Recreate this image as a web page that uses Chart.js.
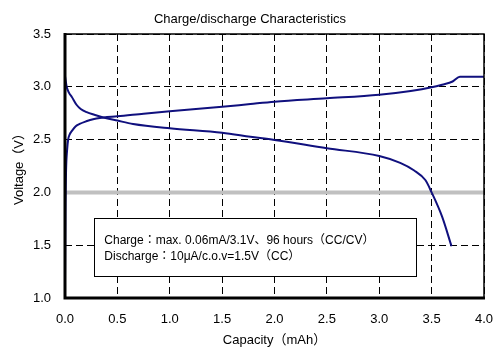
<!DOCTYPE html>
<html>
<head>
<meta charset="utf-8">
<script src="https://cdn.jsdelivr.net/npm/chart.js@4/dist/chart.umd.min.js"></script>
<style>
html,body{margin:0;padding:0;background:#fff;}
#wrap{width:500px;height:360px;position:relative;}
</style>
</head>
<body>
<div id="wrap"><canvas id="c" width="500" height="360"></canvas></div>
<script>
const chartTitle = "Charge/discharge Characteristics";
const xTitle = "Capacity（mAh）";
const yTitle = "Voltage（V）";
const noteLines = ["Charge：max. 0.06mA/3.1V、96 hours（CC/CV）", "Discharge：10μA/c.o.v=1.5V（CC）"];

const chargeCap = [0, 0.004, 0.01, 0.02, 0.03, 0.045, 0.064, 0.1, 0.14, 0.2, 0.24, 0.3, 0.37, 0.5, 0.75, 1.0, 1.5, 1.77, 2.0, 2.5, 3.0, 3.3, 3.5, 3.6, 3.7, 3.77, 4.0];
const chargeV   = [1.17, 1.8, 2.2, 2.4, 2.5, 2.55, 2.58, 2.625, 2.648, 2.672, 2.686, 2.70, 2.71, 2.72, 2.745, 2.768, 2.81, 2.837, 2.859, 2.891, 2.925, 2.96, 2.995, 3.02, 3.05, 3.096, 3.096];

const dischargeCap = [0, 0.016, 0.04, 0.064, 0.11, 0.15, 0.207, 0.28, 0.366, 0.5, 0.65, 1.0, 1.5, 1.77, 2.0, 2.5, 3.0, 3.2, 3.33, 3.44, 3.5, 3.6, 3.69];
const dischargeV   = [3.10, 3.0, 2.94, 2.906, 2.83, 2.79, 2.76, 2.735, 2.71, 2.68, 2.648, 2.607, 2.565, 2.527, 2.496, 2.418, 2.345, 2.28, 2.21, 2.117, 2.0, 1.77, 1.49];

const cutoffCap = [0, 4.0];
const cutoffV = [2.0, 2.0];

const FONT = "'Liberation Sans', Arial, 'Noto Sans CJK JP', sans-serif";

function pts(xs, ys){ return xs.map((x,i)=>({x:x, y:ys[i]})); }

const framePlugin = {
  id: 'frame',
  beforeDatasetsDraw(chart){
    const {ctx, scales} = chart;
    const x0 = scales.x.getPixelForValue(0.28), x1 = scales.x.getPixelForValue(3.35);
    const y0 = scales.y.getPixelForValue(1.76), y1 = scales.y.getPixelForValue(1.21);
    ctx.save();
    ctx.fillStyle = '#fff';
    ctx.fillRect(x0, y0, x1-x0, y1-y0);
    ctx.strokeStyle = '#000';
    ctx.lineWidth = 1;
    ctx.strokeRect(Math.round(x0)+0.5, Math.round(y0)+0.5, Math.round(x1-x0), Math.round(y1-y0));
    ctx.fillStyle = '#000';
    ctx.font = "12px " + FONT;
    ctx.textBaseline = 'alphabetic';
    ctx.fillText(noteLines[0], x0+10, y0+26);
    ctx.fillText(noteLines[1], x0+10, y0+42);
    ctx.restore();
  },
  afterDatasetsDraw(chart){
    const {ctx, chartArea:a} = chart;
    ctx.save();
    ctx.strokeStyle = '#000';
    ctx.lineWidth = 1.5;
    ctx.beginPath();
    ctx.moveTo(a.left, a.top);
    ctx.lineTo(a.right, a.top);
    ctx.lineTo(a.right, a.bottom);
    ctx.stroke();
    ctx.lineWidth = 3;
    ctx.beginPath();
    ctx.moveTo(a.left, a.top-1);
    ctx.lineTo(a.left, a.bottom);
    ctx.lineTo(a.right+1, a.bottom);
    ctx.stroke();
    ctx.restore();
  }
};

new Chart(document.getElementById('c'), {
  type: 'line',
  data: {
    datasets: [
      {label:'Charge', data: pts(chargeCap, chargeV), borderColor:'#10107e', borderWidth:2, pointRadius:0, cubicInterpolationMode:'monotone', fill:false},
      {label:'Discharge', data: pts(dischargeCap, dischargeV), borderColor:'#10107e', borderWidth:2, pointRadius:0, cubicInterpolationMode:'monotone', fill:false},
      {label:'Cut-off', data: pts(cutoffCap, cutoffV), borderColor:'#c0c0c0', borderWidth:4, pointRadius:0, fill:false}
    ]
  },
  options: {
    responsive:false,
    animation:false,
    layout:{padding:{left:0, right:0, top:0, bottom:0}},
    plugins:{
      legend:{display:false},
      tooltip:{enabled:false},
      title:{display:true, text:chartTitle, color:'#000', font:{family:FONT, size:13, weight:'normal', lineHeight:1.2}, padding:{top:11.2, bottom:7.2}}
    },
    scales:{
      x:{
        type:'linear', min:0, max:4.0,
        afterFit(s){ s.height = 62; s.paddingLeft = 0; s.paddingRight = 0; },
        ticks:{stepSize:0.5, color:'#000', padding:14, font:{family:FONT, size:13}, callback:v=>v.toFixed(1)},
        grid:{color:'#000', lineWidth:1, drawTicks:false},
        border:{display:false, dash:[7,4]},
        title:{display:true, text:xTitle, color:'#000', font:{family:FONT, size:13}, padding:{top:0, bottom:12}}
      },
      y:{
        type:'linear', min:1.0, max:3.5,
        afterFit(s){ s.width = 65; s.paddingTop = 0; s.paddingBottom = 0; },
        ticks:{stepSize:0.5, color:'#000', padding:14, font:{family:FONT, size:13}, callback:v=>v.toFixed(1)},
        grid:{color:'#000', lineWidth:1, drawTicks:false},
        border:{display:false, dash:[7,4]},
        title:{display:true, text:yTitle, color:'#000', font:{family:FONT, size:13}, padding:{top:12, bottom:0}}
      },
      yRight:{
        type:'linear', position:'right', min:1.0, max:3.5,
        afterFit(s){ s.width = 16; s.paddingTop = 0; s.paddingBottom = 0; },
        ticks:{display:false},
        grid:{display:false, drawOnChartArea:false, drawTicks:false},
        border:{display:false}
      }
    }
  },
  plugins:[framePlugin]
});
</script>
</body>
</html>
